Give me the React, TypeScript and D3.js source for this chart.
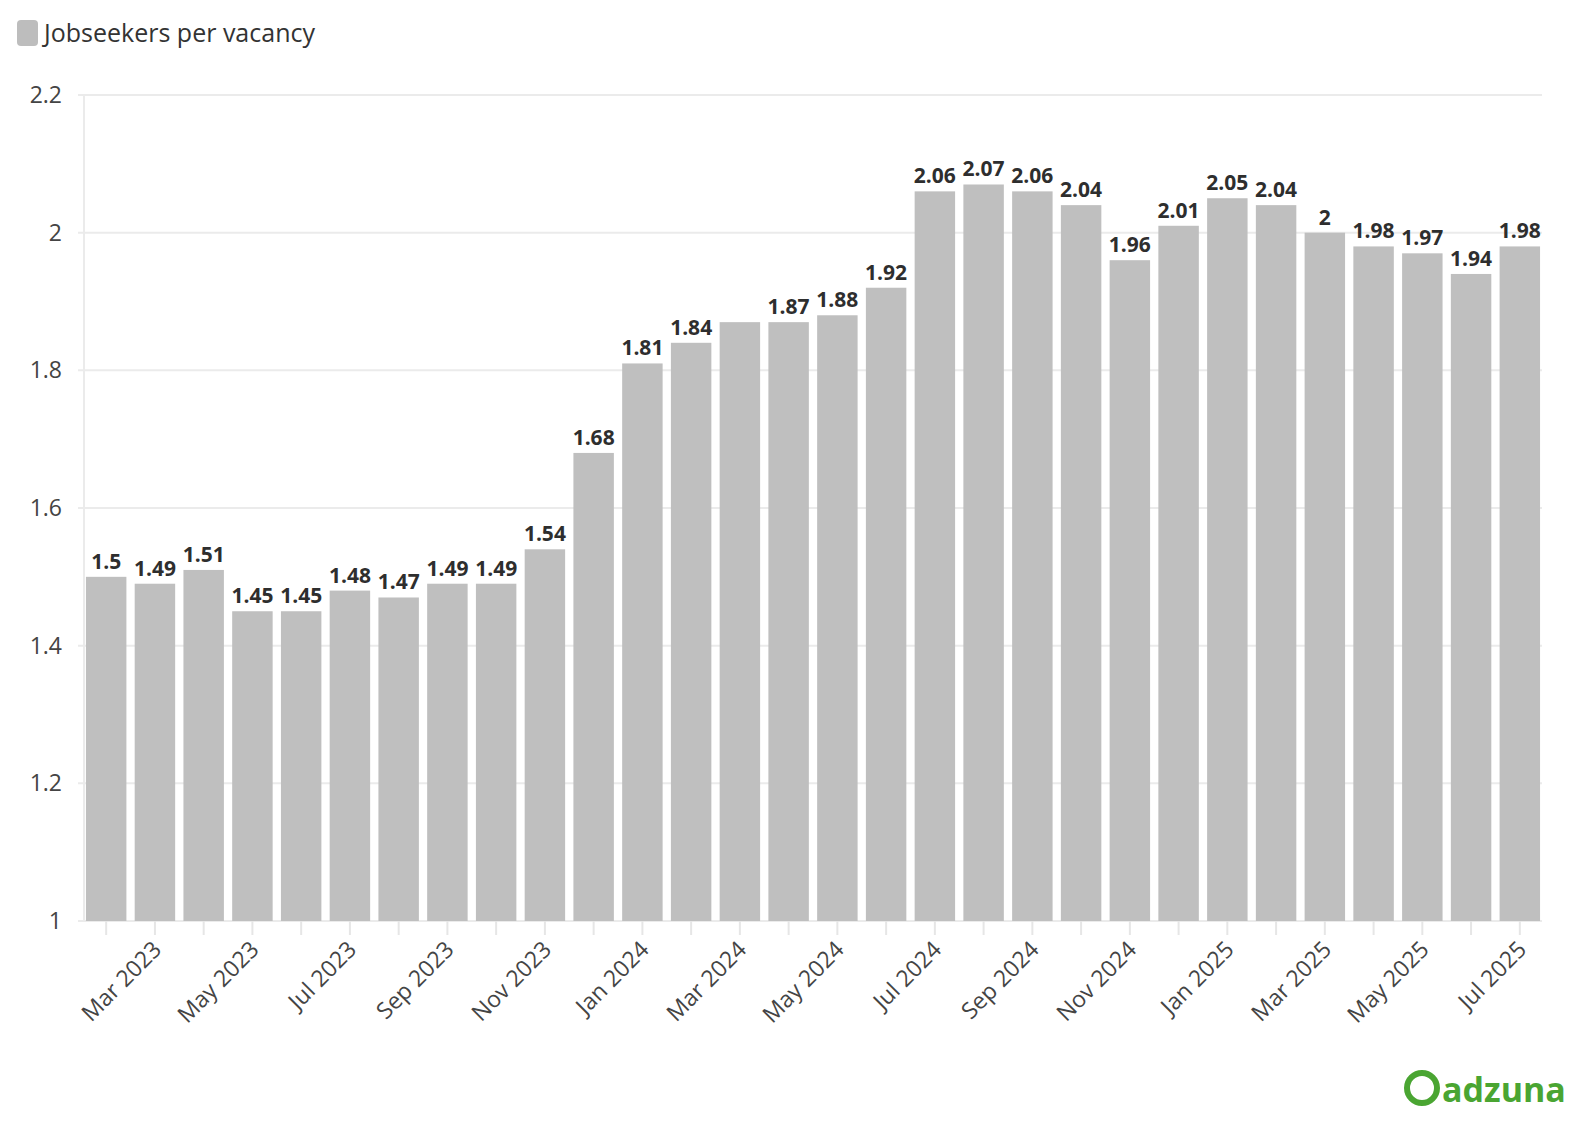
import React from "react";
import * as d3 from "d3";

const months = ["Feb 2023","Mar 2023","Apr 2023","May 2023","Jun 2023","Jul 2023","Aug 2023","Sep 2023","Oct 2023","Nov 2023","Dec 2023","Jan 2024","Feb 2024","Mar 2024","Apr 2024","May 2024","Jun 2024","Jul 2024","Aug 2024","Sep 2024","Oct 2024","Nov 2024","Dec 2024","Jan 2025","Feb 2025","Mar 2025","Apr 2025","May 2025","Jun 2025","Jul 2025"];
const values = [1.5,1.49,1.51,1.45,1.45,1.48,1.47,1.49,1.49,1.54,1.68,1.81,1.84,1.87,1.87,1.88,1.92,2.06,2.07,2.06,2.04,1.96,2.01,2.05,2.04,2,1.98,1.97,1.94,1.98];
const hiddenLabels = ["Mar 2024"];
const yTicks = [1,1.2,1.4,1.6,1.8,2,2.2];
const tickLabels = ["Mar 2023","May 2023","Jul 2023","Sep 2023","Nov 2023","Jan 2024","Mar 2024","May 2024","Jul 2024","Sep 2024","Nov 2024","Jan 2025","Mar 2025","May 2025","Jul 2025"];

const W = 1578, H = 1140;
const L = 84, R = 1542, T = 95, B = 921;
const font = "'Source Sans Pro','Open Sans','Noto Sans',sans-serif";

export default function App() {
  React.useEffect(() => {
    document.body.style.margin = "0";
    document.body.style.overflow = "hidden";
  }, []);
  const x = d3.scaleBand<string>().domain(months).range([L, R]).paddingInner(0.17).paddingOuter(0.04);
  const y = d3.scaleLinear().domain([1, 2.2]).range([B, T]);
  return (
    <svg width={W} height={H} style={{ position: "fixed", left: 0, top: 0, background: "#fff", display: "block" }} fontFamily={font}>
      <rect x={17} y={20} width={21} height={26} rx={4} fill="#bdbdbd" />
      <text x={44} y={42} fontSize={25} fill="#333">Jobseekers per vacancy</text>
      {yTicks.map(t => (
        <g key={t}>
          <line x1={L - 6} x2={R} y1={y(t)} y2={y(t)} stroke="#ebebeb" strokeWidth={2} />
          <text x={62} y={y(t) + 8} textAnchor="end" fontSize={23} fill="#444">{d3.format("")(t)}</text>
        </g>
      ))}
      <line x1={L} x2={L} y1={T} y2={B} stroke="#ebebeb" strokeWidth={2} />
      {months.map(m => {
        const cx = x(m)! + x.bandwidth() / 2;
        return <line key={m} x1={cx} x2={cx} y1={B} y2={B + 14} stroke="#e6e6e6" strokeWidth={2} />;
      })}
      {months.map((m, i) => (
        <rect key={m} x={x(m)} y={y(values[i])} width={x.bandwidth()} height={B - y(values[i])} fill="#bfbfbf" />
      ))}
      {months.map((m, i) => hiddenLabels.includes(m) ? null : (
        <text key={m} x={x(m)! + x.bandwidth() / 2} y={y(values[i]) - 8} textAnchor="middle" fontSize={21} fontWeight={700} fill="#2e2e2e">{d3.format("")(values[i])}</text>
      ))}
      {tickLabels.map(m => {
        const cx = x(m)! + x.bandwidth() / 2;
        return (
          <text key={m} transform={`translate(${cx + 8},${B + 30}) rotate(-45)`} textAnchor="end" fontSize={23} fill="#444">{m}</text>
        );
      })}
      <g transform="translate(1402,1070)">
        <circle cx={20} cy={18} r={15} fill="none" stroke="#4aa532" strokeWidth={6} />
        <text x={40} y={32} fontSize={34} fontWeight={700} fill="#4aa532" fontFamily="'Open Sans',sans-serif">adzuna</text>
      </g>
    </svg>
  );
}
